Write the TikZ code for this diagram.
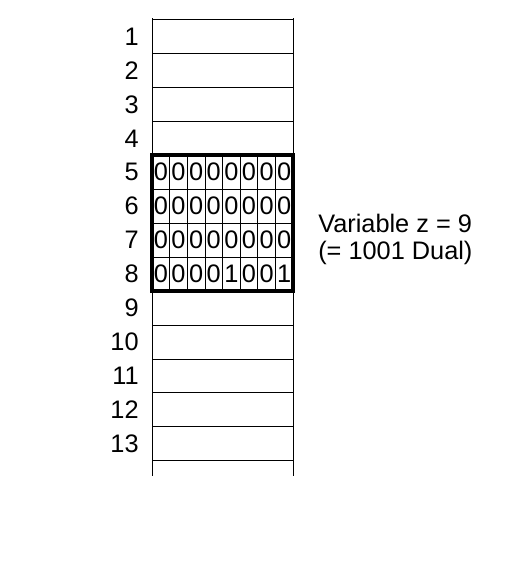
\documentclass[tikz,border=0pt]{standalone}
\usepackage{fontspec}
\setmainfont{Liberation Sans}
\usetikzlibrary{calc}
\usetikzlibrary{positioning}
\usetikzlibrary{fit}

\begin{document}
\begin{tikzpicture}[x=0.75pt,y=-0.75pt,
      font=\fontsize{19}{20.25}\selectfont,
      cell style/.style={rectangle,draw=black,minimum width=105.75pt,minimum
        height=25.43pt,inner sep=0pt,outer sep=0pt},
      bit style/.style={rectangle,draw=black,minimum width=13.22pt,minimum
        height=25.43pt,inner sep=0pt,outer sep=0pt},
      num style/.style={inner sep=0pt,outer sep=0pt}
      ]
      \useasboundingbox (0,0) rectangle (529,566);

      % memory cells
      \node[cell style, anchor=north west] (cell1) at (152,19.7) {};
      \foreach \i [count=\j from 2] in {1,...,12} {
        \node[cell style, below=0pt of cell\i] (cell\j) {};
      }
      \foreach \i in {1,...,13} {
        \node[num style, left=10pt of cell\i] (num\i) {\i};
      }

      \coordinate[above=1.3pt of cell1.north west] (topl);
      \coordinate[above=1.3pt of cell1.north east] (topr);
      \coordinate[below=11.6pt of cell13.south west] (endl);
      \coordinate[below=11.6pt of cell13.south east] (endr);
      \draw (cell1.north west) -- (topl);
      \draw (cell1.north east) -- (topr);
      \draw (cell13.south west) -- (endl);
      \draw (cell13.south east) -- (endr);

      % bits of z
      \foreach \r/\bits in {5/{0,0,0,0,0,0,0,0},6/{0,0,0,0,0,0,0,0},
          7/{0,0,0,0,0,0,0,0},8/{0,0,0,0,1,0,0,1}} {
        \foreach \b [count=\c] in \bits {
          \node[bit style, anchor=north west] (bit\r\c)
            at ($(cell\r.north west)+(\c*17.625-17.625,0)$) {\b};
        }
      }
      \node[draw=black, line width=3pt, inner sep=0pt, fit=(cell5)(cell8)] (zbox) {};

      \node[anchor=west, align=left, inner sep=0pt] (zlabel) at (318,239)
        {Variable z = 9\\(= 1001 Dual)};

    \end{tikzpicture}
\end{document}
